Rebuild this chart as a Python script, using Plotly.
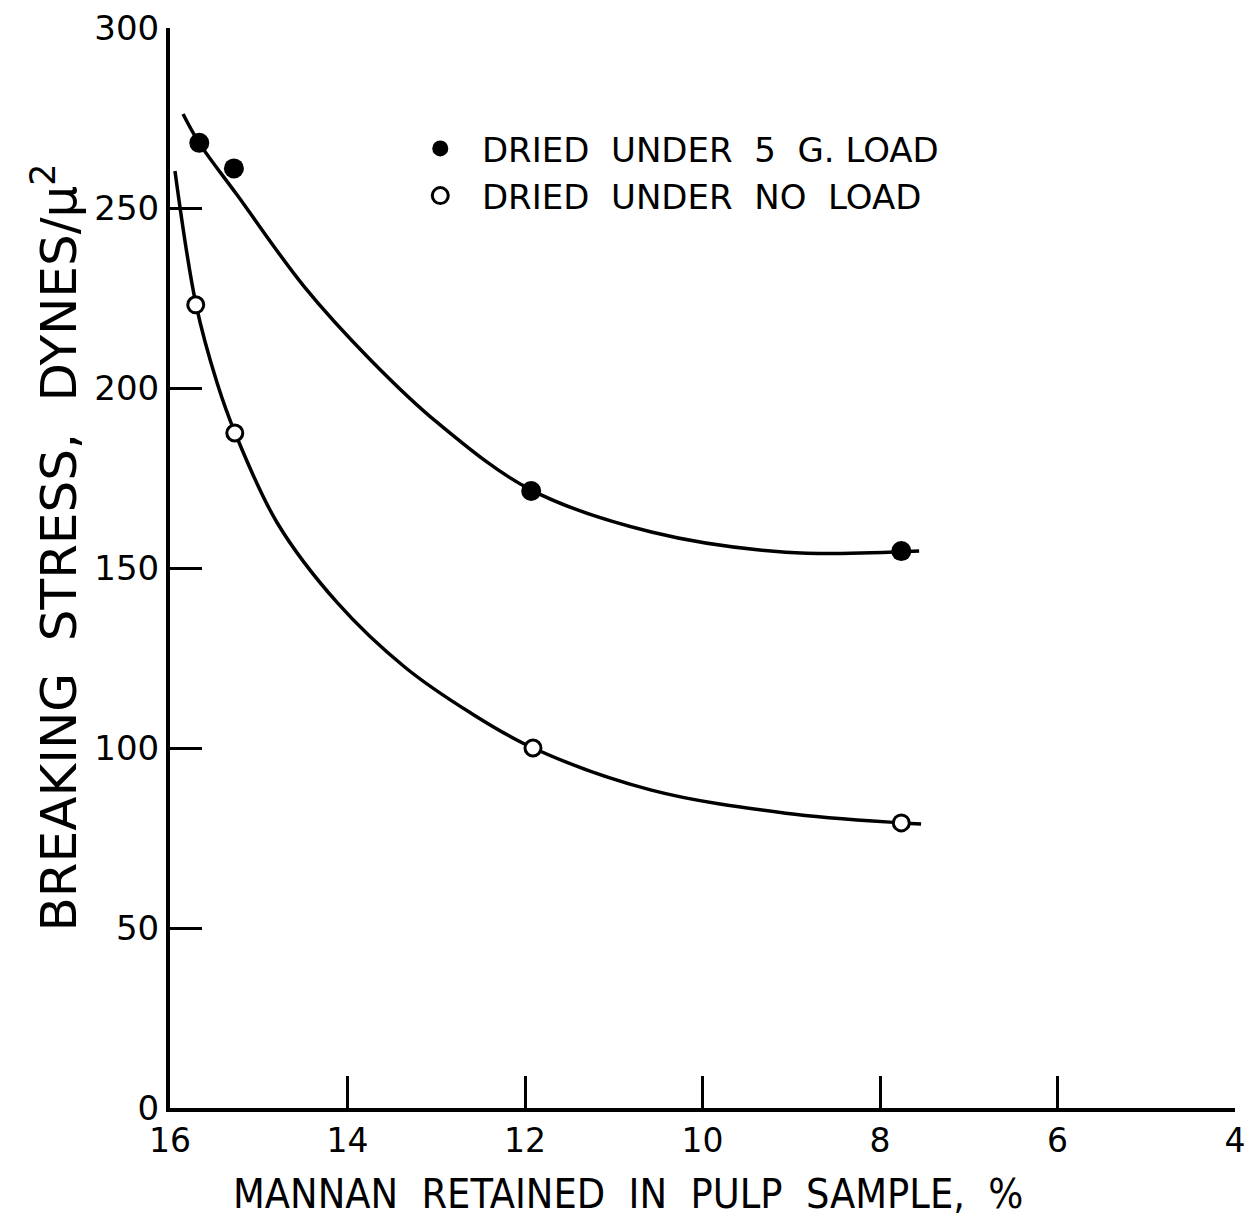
import plotly.graph_objects as go

# Measured points: mannan retained (%) vs breaking stress (dynes/micron^2)
loaded_x = [15.67, 15.28, 11.93, 7.76]
loaded_y = [268.1, 261.0, 171.4, 154.7]
noload_x = [15.71, 15.27, 11.91, 7.76]
noload_y = [223.1, 187.5, 100.0, 79.2]

# Smoothed curves drawn through each set of points
loaded_curve_x = [15.853, 15.672, 15.243, 14.486, 13.740, 12.983, 11.932,
                  10.576, 9.062, 7.559]
loaded_curve_y = [276.1, 268.1, 253.6, 228.1, 207.8, 190.3, 171.7,
                  160.0, 154.4, 154.7]
noload_curve_x = [15.944, 15.706, 15.469, 15.266, 14.791, 14.113, 13.356,
                  12.610, 11.910, 10.576, 9.062, 7.763, 7.537]
noload_curve_y = [260.3, 223.1, 201.4, 187.5, 162.5, 140.3, 122.5,
                  109.7, 100.0, 88.3, 81.9, 79.2, 78.9]

x_ticks = [16, 14, 12, 10, 8, 6, 4]
y_ticks = [0, 50, 100, 150, 200, 250, 300]

x_title = "MANNAN  RETAINED  IN  PULP  SAMPLE,  %"
y_title = "BREAKING  STRESS,  DYNES/μ<sup>2</sup>"

FONT = "DejaVu Sans"
NARROW_FONT = "DejaVu Sans Condensed, DejaVu Sans"
INK = "black"

fig = go.Figure()

fig.add_trace(go.Scatter(
    x=loaded_curve_x, y=loaded_curve_y, mode="lines",
    line=dict(color=INK, width=3.5, shape="spline", smoothing=1.0),
    showlegend=False, hoverinfo="skip"))
fig.add_trace(go.Scatter(
    x=noload_curve_x, y=noload_curve_y, mode="lines",
    line=dict(color=INK, width=3.5, shape="spline", smoothing=1.0),
    showlegend=False, hoverinfo="skip"))

fig.add_trace(go.Scatter(
    x=loaded_x, y=loaded_y, mode="markers",
    name="  DRIED  UNDER  5  G. LOAD",
    marker=dict(symbol="circle", size=20, color=INK, line=dict(width=0))))
fig.add_trace(go.Scatter(
    x=noload_x, y=noload_y, mode="markers",
    name="  DRIED  UNDER  NO  LOAD",
    marker=dict(symbol="circle", size=16, color="white",
                line=dict(color=INK, width=3))))

fig.update_layout(
    width=1247, height=1228,
    margin=dict(l=170, r=12, t=28, b=120),
    paper_bgcolor="white", plot_bgcolor="white",
    font=dict(family=FONT, color=INK),
    showlegend=True,
    legend=dict(
        x=0.235, y=0.915, xanchor="left", yanchor="top",
        bgcolor="rgba(0,0,0,0)", borderwidth=0,
        font=dict(family=FONT, size=34, color=INK),
        itemsizing="trace",
    ),
    annotations=[
        dict(text=x_title, xref="paper", yref="paper", x=0.43, y=-0.08,
             xanchor="center", yanchor="middle", showarrow=False,
             font=dict(family=NARROW_FONT, size=41, color=INK)),
        dict(text=y_title, xref="paper", yref="paper", x=-0.108, y=0.519,
             xanchor="center", yanchor="middle", showarrow=False,
             textangle=-90,
             font=dict(family=FONT, size=50, color=INK)),
    ],
)

fig.update_xaxes(
    range=[16, 4], tickvals=x_ticks, ticktext=[str(v) for v in x_ticks],
    showgrid=False, zeroline=False, automargin=False,
    showline=True, linecolor=INK, linewidth=4,
    ticks="inside", ticklen=32, tickwidth=3, tickcolor=INK,
    tickfont=dict(family=FONT, size=33, color=INK),
)
fig.update_yaxes(
    range=[0, 300], tickvals=y_ticks, ticktext=[str(v) for v in y_ticks],
    showgrid=False, zeroline=False, automargin=False,
    showline=True, linecolor=INK, linewidth=4,
    ticks="inside", ticklen=32, tickwidth=3, tickcolor=INK,
    tickfont=dict(family=FONT, size=34, color=INK),
)

fig.write_html("out.html")
